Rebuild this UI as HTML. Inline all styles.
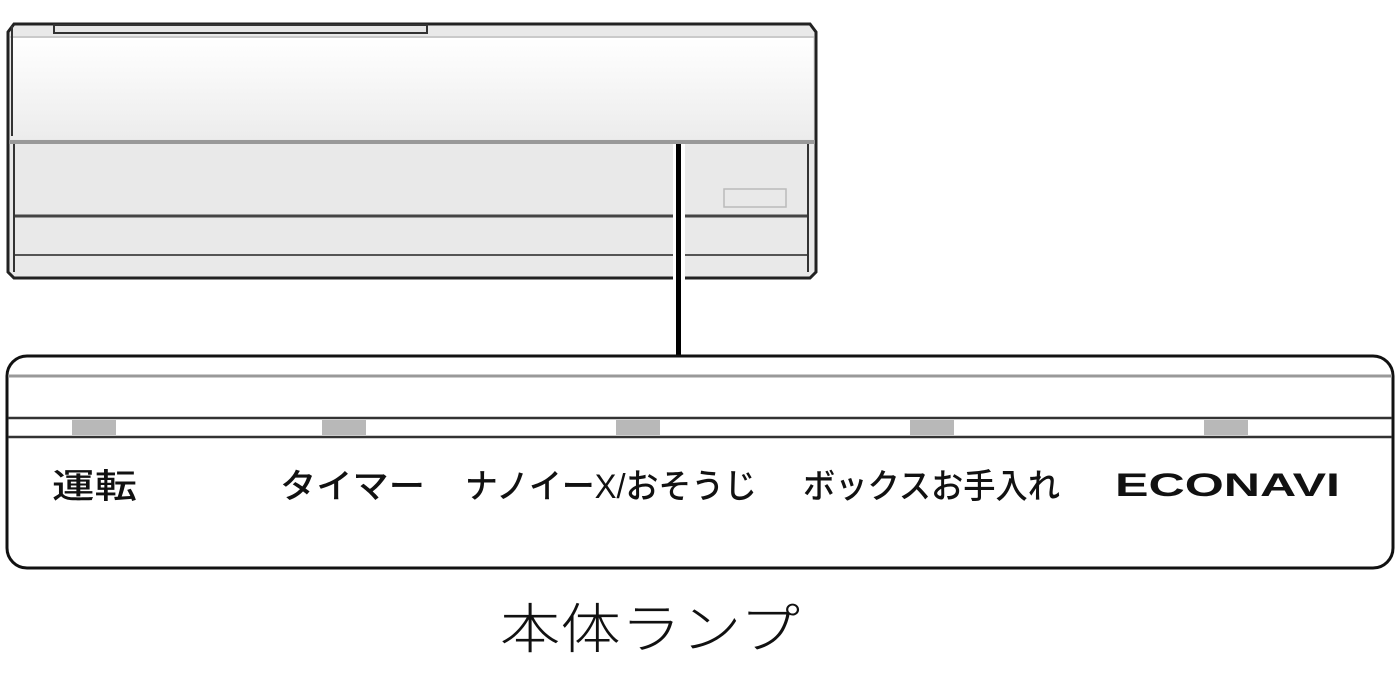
<!DOCTYPE html>
<html><head><meta charset="utf-8"><style>
html,body{margin:0;padding:0;background:#fff;}
svg{display:block}
text{font-family:"Liberation Sans","Noto Sans CJK JP",sans-serif;fill:#111;}
</style></head><body>
<svg width="1400" height="686" viewBox="0 0 1400 686" xmlns="http://www.w3.org/2000/svg">
<defs>
<linearGradient id="g1" x1="0" y1="0" x2="0" y2="1"><stop offset="0" stop-color="#fff"/><stop offset="1" stop-color="#ececec"/></linearGradient>
</defs>
<!-- unit -->
<path d="M14,24 L810,24 L816,32 L816,272 L810,278 L14,278 L8,272 L8,32 Z" fill="#e9e9e9" stroke="#222" stroke-width="3"/>
<rect x="11" y="38" width="802" height="101" fill="url(#g1)"/>
<rect x="54" y="25" width="373" height="8" fill="#e6e6e6" stroke="#333" stroke-width="2"/>
<line x1="10" y1="37" x2="814" y2="37" stroke="#aaa" stroke-width="1"/>
<line x1="12" y1="26" x2="12" y2="136" stroke="#333" stroke-width="2"/>
<rect x="9" y="140" width="806" height="4" fill="#999"/>
<line x1="14" y1="144" x2="14" y2="272" stroke="#333" stroke-width="2"/>
<line x1="808" y1="144" x2="808" y2="272" stroke="#333" stroke-width="2"/>
<line x1="15" y1="216" x2="807" y2="216" stroke="#444" stroke-width="3"/>
<line x1="15" y1="255" x2="807" y2="255" stroke="#555" stroke-width="2"/>
<rect x="724" y="189" width="62" height="18" fill="none" stroke="#bbb" stroke-width="1.5"/>
<rect x="673" y="144" width="12" height="138" fill="#fff"/>
<rect x="676" y="144" width="5" height="211" fill="#000"/>
<!-- panel -->
<rect x="7" y="356" width="1386" height="212" rx="20" ry="20" fill="#fff" stroke="#111" stroke-width="3"/>
<line x1="8" y1="376" x2="1392" y2="376" stroke="#999" stroke-width="3"/>
<line x1="8" y1="418" x2="1392" y2="418" stroke="#333" stroke-width="2.5"/>
<line x1="8" y1="437" x2="1392" y2="437" stroke="#333" stroke-width="2.5"/>
<g fill="#b8b8b8">
<rect x="72" y="420" width="44" height="15"/>
<rect x="322" y="420" width="44" height="15"/>
<rect x="616" y="420" width="44" height="15"/>
<rect x="910" y="420" width="44" height="15"/>
<rect x="1204" y="420" width="44" height="15"/>
</g>
<g font-size="34" style="font-weight:500">
<text x="52" y="498" textLength="85" lengthAdjust="spacingAndGlyphs">運転</text>
<text x="280" y="498" textLength="145" lengthAdjust="spacingAndGlyphs">タイマー</text>
<text x="465" y="498" textLength="292" lengthAdjust="spacingAndGlyphs">ナノイーX/おそうじ</text>
<text x="803" y="498" textLength="257" lengthAdjust="spacingAndGlyphs">ボックスお手入れ</text>
<text x="1115" y="496" textLength="225" lengthAdjust="spacingAndGlyphs" font-size="32" style="font-weight:600">ECONAVI</text>
</g>
<text x="500" y="648" font-size="54" textLength="300" lengthAdjust="spacingAndGlyphs" style="font-weight:300">本体ランプ</text>
</svg>
</body></html>
